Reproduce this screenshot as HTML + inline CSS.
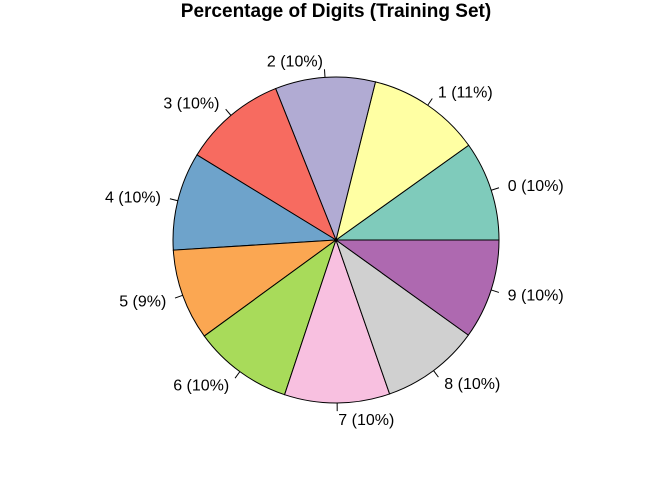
<!DOCTYPE html>
<html><head><meta charset="utf-8"><style>
body{margin:0;background:#fff;}
svg{display:block;font-family:"Liberation Sans",Arial,sans-serif;}
</style></head><body>
<svg id="chart" width="672" height="480" viewBox="0 0 672 480">
<text x="336" y="17" text-anchor="middle" font-size="19" font-weight="bold">Percentage of Digits (Training Set)</text>
<g id="slices"></g>
<g id="labels"></g>
</svg>
<script>
const categories = ["0","1","2","3","4","5","6","7","8","9"];
const counts = [5923,6742,5958,6131,5842,5421,5918,6265,5851,5949];
const colors = ["#7FCBBB","#FFFFA3","#B1ABD3","#F76B60","#6EA3CB","#FBA752","#A8DB5A","#F8C0E0","#D0D0D0","#AE69B0"];
const cx=336, cy=240, r=163;
const NS="http://www.w3.org/2000/svg";
const total=counts.reduce((a,b)=>a+b,0);
const gS=document.getElementById('slices'), gL=document.getElementById('labels');
function pt(a,rr){return [cx+rr*Math.cos(a), cy-rr*Math.sin(a)];}
let cum=0;
counts.forEach((v,i)=>{
  const a0=cum/total*2*Math.PI; cum+=v; const a1=cum/total*2*Math.PI;
  const p0=pt(a0,r), p1=pt(a1,r);
  const large=(a1-a0)>Math.PI?1:0;
  const path=document.createElementNS(NS,'path');
  path.setAttribute('d',`M${cx},${cy} L${p0[0]},${p0[1]} A${r},${r} 0 ${large} 0 ${p1[0]},${p1[1]} Z`);
  path.setAttribute('fill',colors[i]);path.setAttribute('stroke','#000');path.setAttribute('stroke-width','1');
  
  
  gS.appendChild(path);
  const am=(a0+a1)/2;
  const t0=pt(am,r), t1=pt(am,r*1.05), tl=pt(am,r*1.1);
  const ln=document.createElementNS(NS,'line');
  ln.setAttribute('x1',t0[0]);ln.setAttribute('y1',t0[1]);ln.setAttribute('x2',t1[0]);ln.setAttribute('y2',t1[1]);
  ln.setAttribute('stroke','#000');
  
  
  gL.appendChild(ln);
  const tx=document.createElementNS(NS,'text');
  tx.setAttribute('x',tl[0]+(Math.cos(am)>0?1:-1));tx.setAttribute('y',tl[1]+5.5);
  tx.setAttribute('font-size','16');
  tx.setAttribute('text-anchor',Math.cos(am)>0?'start':'end');
  tx.textContent=categories[i]+' ('+Math.round(v/total*100)+'%)';
  
  
  gL.appendChild(tx);
});
</script>
</body></html>
